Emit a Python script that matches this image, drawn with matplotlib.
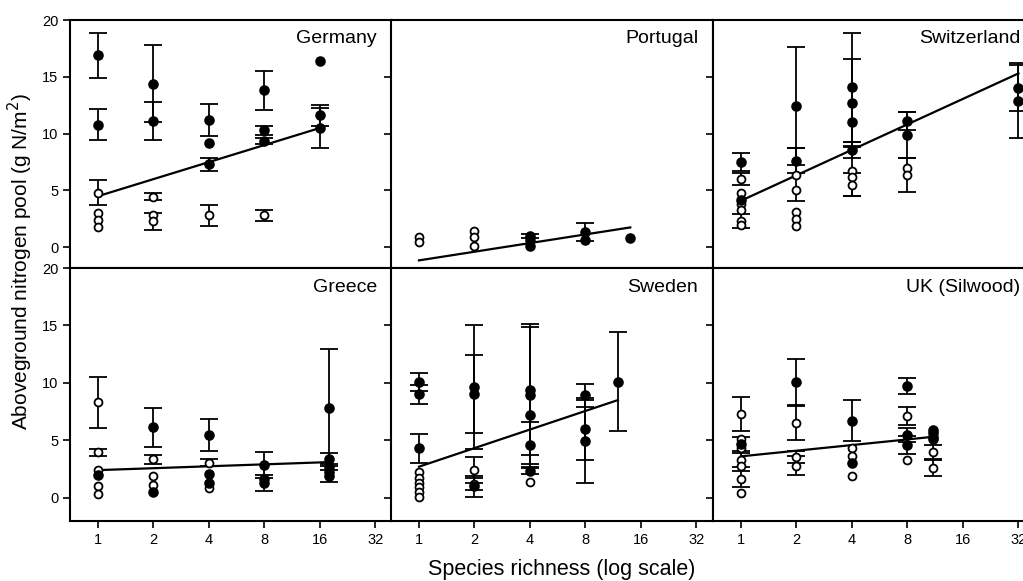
import matplotlib
matplotlib.use("Agg")
import numpy as np
import matplotlib.pyplot as plt

plt.rcParams['font.family'] = ['Liberation Sans', 'DejaVu Sans']

# (species richness, N pool, s.e.) -- err 0 means no bar drawn
# filled = plots with legumes, open = plots without legumes
germany_filled = [(1, 16.9, 2.0), (1, 10.8, 1.4), (2, 14.4, 3.4), (2, 11.1, 1.7),
                  (4, 11.2, 1.45), (4, 9.2, 0), (4, 7.3, 0.6), (8, 13.8, 1.7),
                  (8, 10.3, 0.4), (8, 9.35, 0.3), (16, 16.4, 0), (16, 11.6, 0.9),
                  (16, 10.5, 1.8)]
germany_open = [(1, 4.8, 1.1), (1, 3.0, 0), (1, 2.4, 0), (1, 1.75, 0),
                (2, 4.45, 0.3), (2, 2.8, 0), (2, 2.3, 0.75), (4, 2.8, 0.95),
                (8, 2.8, 0.45)]
germany_fit = [(1, 4.5), (16, 10.5)]

portugal_filled = [(4, 1.0, 0.2), (4, 0.6, 0), (4, 0.15, 0), (8, 1.35, 0.8),
                   (8, 0.65, 0), (14, 0.85, 0)]
portugal_open = [(1, 0.93, 0), (1, 0.44, 0), (2, 1.45, 0), (2, 0.93, 0),
                 (2, 0.1, 0)]
portugal_fit = [(1, -1.15), (14, 1.75)]

switzerland_filled = [(1, 7.5, 0.8), (1, 4.2, 0), (2, 12.4, 5.2), (2, 7.6, 1.1),
                      (4, 14.1, 4.8), (4, 12.7, 3.9), (4, 11.0, 0), (4, 8.6, 0.7),
                      (8, 11.1, 0.8), (8, 9.9, 2.0), (32, 14.0, 2.0), (32, 12.9, 3.3)]
switzerland_open = [(1, 6.0, 0.5), (1, 4.8, 0), (1, 3.8, 0), (1, 3.3, 0),
                    (1, 2.3, 0.6), (1, 2.0, 0), (2, 6.4, 2.3), (2, 5.0, 0),
                    (2, 3.1, 0), (2, 2.5, 0), (2, 1.85, 0), (4, 6.7, 2.2),
                    (4, 6.2, 0), (4, 5.5, 1.0), (8, 7.0, 0), (8, 6.4, 1.5)]
switzerland_fit = [(1, 4.1), (32, 15.3)]

greece_filled = [(1, 2.0, 0), (2, 6.15, 1.7), (2, 0.5, 0), (4, 5.45, 1.4),
                 (4, 2.1, 0), (4, 1.3, 0), (8, 2.85, 1.1), (8, 1.6, 0),
                 (8, 1.3, 0.7), (18, 7.85, 5.1), (18, 3.4, 0.5), (18, 2.7, 0),
                 (18, 2.2, 0), (18, 1.9, 0.5)]
greece_open = [(1, 8.3, 2.2), (1, 3.95, 0.3), (1, 2.4, 0), (1, 1.0, 0),
               (1, 0.3, 0), (2, 3.35, 0.4), (2, 1.85, 0), (2, 1.1, 0),
               (4, 3.05, 0.3), (4, 0.8, 0)]
greece_fit = [(1, 2.4), (18, 3.1)]

sweden_filled = [(1, 10.05, 0.8), (1, 9.0, 0.85), (1, 4.3, 1.25), (2, 9.6, 5.4),
                 (2, 9.0, 3.4), (2, 1.0, 0.9), (4, 9.4, 5.7), (4, 8.9, 6.0),
                 (4, 7.2, 0), (4, 4.6, 2.0), (4, 2.35, 0.3), (8, 8.9, 1.0),
                 (8, 6.0, 2.7), (8, 4.9, 3.6), (12, 10.1, 4.3)]
sweden_open = [(1, 2.2, 0), (1, 1.75, 0), (1, 1.3, 0), (1, 0.9, 0),
               (1, 0.5, 0), (1, 0.1, 0), (2, 2.4, 1.1), (2, 1.2, 0.5),
               (4, 1.4, 0)]
sweden_fit = [(1, 2.7), (12, 8.5)]

uk_filled = [(1, 4.7, 0.6), (2, 10.1, 2.0), (4, 6.7, 1.8), (4, 3.0, 0),
             (8, 9.75, 0.7), (8, 5.45, 0.6), (8, 4.6, 0.8), (11, 5.9, 0),
             (11, 5.6, 0), (11, 5.3, 0), (11, 5.1, 0)]
uk_open = [(1, 7.3, 1.5), (1, 5.1, 0), (1, 4.3, 0), (1, 3.3, 0.6),
           (1, 2.8, 0), (1, 1.6, 0.7), (1, 0.45, 0), (2, 6.5, 1.5),
           (2, 3.55, 0.5), (2, 2.8, 0.8), (4, 4.3, 0), (4, 3.6, 0),
           (4, 1.85, 0), (8, 7.1, 0.8), (8, 3.3, 0), (11, 4.0, 0.6),
           (11, 2.6, 0.7)]
uk_fit = [(1, 3.6), (11, 5.3)]

site_names = ["Germany", "Portugal", "Switzerland",
              "Greece", "Sweden", "UK (Silwood)"]
site_filled = [germany_filled, portugal_filled, switzerland_filled,
               greece_filled, sweden_filled, uk_filled]
site_open = [germany_open, portugal_open, switzerland_open,
             greece_open, sweden_open, uk_open]
site_fit = [germany_fit, portugal_fit, switzerland_fit,
            greece_fit, sweden_fit, uk_fit]

x_ticks = [1, 2, 4, 8, 16, 32]
y_ticks = [0, 5, 10, 15, 20]

W, H = 1023, 581
fig = plt.figure(figsize=(W / 100, H / 100), dpi=100)

# panel boxes in pixels: the right column runs slightly past the canvas
col_left = [70, 391, 713]
col_w = 321.5
row_top = [20, 268]
row_h = [248, 253]
row_ylim = [(-1.82, 20), (-2.03, 20)]


def draw_points(ax, pts, filled):
    xs = np.array([p[0] for p in pts], dtype=float)
    ys = np.array([p[1] for p in pts])
    es = np.array([p[2] for p in pts])
    m = es > 0
    if m.any():
        ax.errorbar(xs[m], ys[m], yerr=es[m], fmt='none', ecolor='black',
                    elinewidth=1.3, capsize=6.5, capthick=1.3, zorder=2)
    ax.plot(xs, ys, 'o', ms=6.3 if filled else 5.7,
            mfc='black' if filled else 'white', mec='black',
            mew=1.3, zorder=4 if filled else 3)


axes = []
for i in range(6):
    r, c = divmod(i, 3)
    rect = [col_left[c] / W, 1 - (row_top[r] + row_h[r]) / H,
            col_w / W, row_h[r] / H]
    ax = fig.add_axes(rect)
    axes.append(ax)

    ax.set_xscale('log', base=2)
    ax.set_xlim(0.705, 39.1)
    ax.set_ylim(*row_ylim[r])

    fx = [p[0] for p in site_fit[i]]
    fy = [p[1] for p in site_fit[i]]
    ax.plot(fx, fy, color='black', lw=1.6, zorder=2.5)

    draw_points(ax, site_open[i], filled=False)
    draw_points(ax, site_filled[i], filled=True)

    ax.text(0.955, 0.958, site_names[i], transform=ax.transAxes,
            ha='right', va='top', fontsize=14)

    ax.set_xticks(x_ticks)
    ax.set_xticklabels([str(t) for t in x_ticks])
    ax.minorticks_off()
    ax.set_yticks(y_ticks)
    ax.set_yticklabels([str(t) for t in y_ticks])
    ax.tick_params(direction='out', length=5, width=1.2, labelsize=10.5,
                   colors='black')
    ax.tick_params(axis='x', bottom=(r == 1), labelbottom=(r == 1), pad=4)
    ax.tick_params(axis='y', labelleft=(c == 0))
    for s in ax.spines.values():
        s.set_linewidth(1.5)

fig.text(20 / W, 1 - 262 / H, 'Aboveground nitrogen pool (g N/m$^2$)',
         rotation=90, ha='center', va='center', fontsize=15)
fig.text(562 / W, 1 - 569 / H, 'Species richness (log scale)',
         ha='center', va='center', fontsize=15.5)

fig.savefig('out.png', dpi=100)
